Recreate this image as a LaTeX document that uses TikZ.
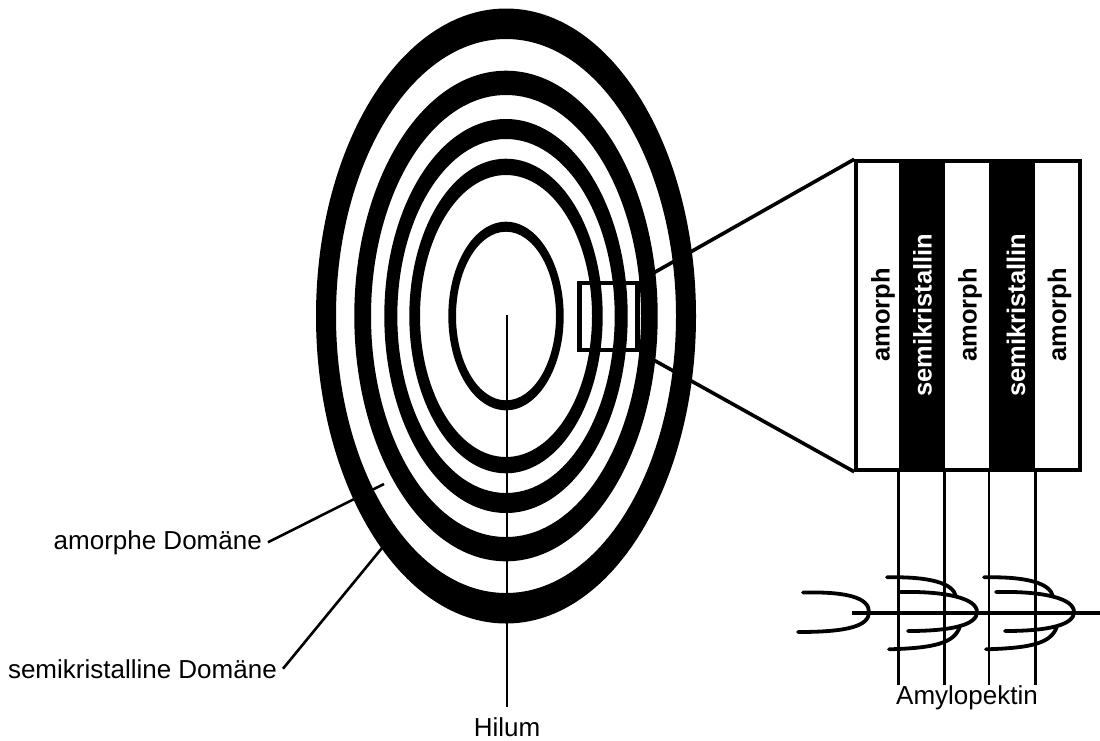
\documentclass[tikz,border=0pt]{standalone}
\usepackage{fontspec}
\setmainfont{Liberation Sans}
\begin{document}
\begin{tikzpicture}[x=1pt,y=-1pt,
  lbl/.style={inner xsep=6pt, inner ysep=0pt, font=\fontsize{26}{31}\selectfont},
  bandtext/.style={font=\fontsize{25.5}{30}\selectfont\bfseries, rotate=90, anchor=base, inner sep=0pt},
  ring/.style={fill=black, even odd rule},
  leader/.style={line width=2.6pt},
  zoomline/.style={line width=3.6pt},
  chain/.style={line width=3.8pt, line cap=round},
  stripe/.style={fill=black, minimum width=46pt, minimum height=309pt, inner sep=0pt},
]
\useasboundingbox (0,0) rectangle (1100,740);

% starch granule: growth rings as filled elliptic annuli
\coordinate (c) at (506,316);
\fill[ring] (c) ellipse [x radius=190pt, y radius=307.5pt] (c) ellipse [x radius=170pt, y radius=277pt];
\fill[ring] (c) ellipse [x radius=151.7pt, y radius=245.3pt] (c) ellipse [x radius=135pt, y radius=221pt];
\fill[ring] (c) ellipse [x radius=121.7pt, y radius=197pt] (c) ellipse [x radius=108.7pt, y radius=177pt];
\fill[ring] (c) ellipse [x radius=96.7pt, y radius=157.3pt] (c) ellipse [x radius=86pt, y radius=141pt];
\fill[ring] (c) ellipse [x radius=57.7pt, y radius=94.3pt] (c) ellipse [x radius=50pt, y radius=84.3pt];

% labels on the left and the hilum
\node[lbl, anchor=base east] (amor) at (268,549) {amorphe Domäne};
\node[lbl, anchor=base east] (semi) at (283,678) {semikristalline Domäne};
\node[lbl, anchor=base] (hilum) at (507,736) {Hilum};
\coordinate (amorEnd) at (384,484);
\coordinate (semiEnd) at (382,548);
\coordinate (hc) at (507,315);
\draw[leader] (amor.east) -- (amorEnd);
\draw[leader] (semi.east) -- (semiEnd);
\draw[leader] (hc) -- ([yshift=10pt]hilum.north);

% detail window on the granule
\node[draw, line width=4.5pt, minimum width=58pt, minimum height=67pt, inner sep=0pt] (sb) at (608.5,316.5) {};

% magnified layer stack
\node[stripe] (st2) at (921.5,315.5) {};
\node[stripe] (st4) at (1012,315.5) {};
\node[draw, line width=3.5pt, minimum width=224pt, minimum height=309pt, inner sep=0pt] (big) at (968,315.5) {};
\draw[zoomline] (sb.north east) -- (big.north west);
\draw[zoomline] (sb.south east) -- (big.south west);

\node[bandtext] (a1) at (889.5,315) {amorph};
\node[bandtext, text=white] (k1) at (931.5,315) {semikristallin};
\node[bandtext] (a2) at (976.5,315) {amorph};
\node[bandtext, text=white] (k2) at (1025,315) {semikristallin};
\node[bandtext] (a3) at (1066,315) {amorph};

% amylopectin
\node[lbl, anchor=base] (amy) at (967,704) {Amylopektin};
\draw[leader] (st2.south west) -- (st2.south west |- amy.north);
\draw[leader] (st2.south east) -- (st2.south east |- amy.north);
\draw[leader] (st4.south west) -- (st4.south west |- amy.north);
\draw[leader] (st4.south east) -- (st4.south east |- amy.north);

\draw[line width=4pt] (852,613.3) -- (1100,613.3);
\draw[chain] (803,592.5) .. controls (848,591.5) and (869,598) .. (869,612) .. controls (869,626) and (848,632) .. (798,632);
\foreach \dx in {0,97} {
  \begin{scope}[xshift=\dx pt]
    \draw[chain] (899,592) .. controls (945,591) and (977,598) .. (977,612) .. controls (977,624) and (955,631) .. (908,631);
    \draw[chain] (887,577.3) .. controls (930,576.5) and (953,583) .. (956,596.5);
    \draw[chain] (889,649.3) .. controls (935,648) and (955,643) .. (960,626);
  \end{scope}
}
\end{tikzpicture}
\end{document}
